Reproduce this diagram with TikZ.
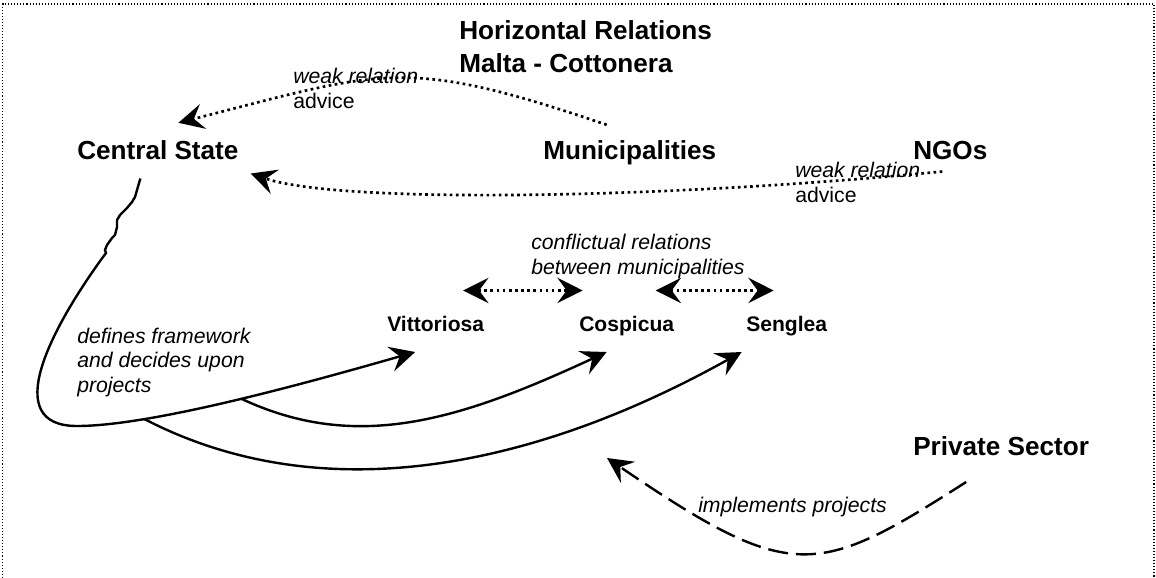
\documentclass[tikz,border=0pt]{standalone}
\usepackage{fontspec}
\setmainfont{Liberation Sans}
\usetikzlibrary{arrows.meta}

\begin{document}
\begin{tikzpicture}[x=0.75pt, y=-0.75pt,
    >={Stealth[length=19pt, width=19pt, inset=7pt]},
    actor/.style={inner sep=0pt, anchor=base west, font=\bfseries\fontsize{19.6}{24.75}\selectfont},
    town/.style={inner sep=0pt, anchor=base west, font=\bfseries\fontsize{15.8}{19}\selectfont},
    remark/.style={inner sep=0pt, anchor=base west, align=left, font=\itshape\fontsize{15.9}{18.3}\selectfont},
    link/.style={->, line width=1.8pt},
    weak/.style={->, line width=2pt, dash pattern=on 2pt off 2.6pt},
    clash/.style={<->, line width=2pt, dash pattern=on 2pt off 2.6pt},
    impl/.style={->, line width=1.8pt, dash pattern=on 15pt off 6pt},
    border/.style={line width=0.8pt, dash pattern=on 0.8pt off 1.5pt}]

     \useasboundingbox (0,0) rectangle (1156,578);
     \draw[border] (2.5,578) |- (1154,4) -- (1154,578);

     % Titel und Akteure
     \node[actor, align=left] (title) at (459,72) {Horizontal Relations\\Malta - Cottonera};
     \node[actor] (cs) at (77,159) {Central State};
     \node[actor] (muni) at (543,159) {Municipalities};
     \node[actor] (ngo) at (913,159) {NGOs};
     \node[actor] (priv) at (913,455) {Private Sector};

     % Gemeinden
     \node[town] (vit) at (387,331) {Vittoriosa};
     \node[town] (cos) at (579,331) {Cospicua};
     \node[town] (sen) at (746,331) {Senglea};

     % Beschriftungen
     \node[remark] (advA) at (293,108) {weak relation\\\upshape advice};
     \node[remark] (advB) at (795,202) {weak relation\\\upshape advice};
     \node[remark] (conf) at (531,274) {conflictual relations\\between municipalities};
     \node[remark] (defs) at (77,392) {defines framework\\and decides upon\\projects};
     \node[remark] (impltxt) at (698,512) {implements projects};

     % schwache Beziehungen
     \draw[weak] ([shift={(-23,-15)}]muni.north) .. controls (404,56) and (385,70) .. ([shift={(20.5,-17)}]cs.north);
     \draw[weak] ([shift={(-8,12)}]ngo.south) .. controls (662,199) and (340,204) .. ([shift={(12,14)}]cs.south east);

     % Konflikte zwischen Gemeinden
     \draw[clash] ([shift={(27.5,-25)}]vit.north) -- ([shift={(-44,-25)}]cos.north);
     \draw[clash] ([shift={(29,-25)}]cos.north) -- ([shift={(-13,-25)}]sen.north);

     % Zentralstaat legt Rahmen fest
     \draw[link] ([shift={(-17.5,19)}]cs.south) -- (137,190) -- (135,197) -- (132,202) -- (127,208)
        -- (120,215) -- (117,220) -- (117,227) -- (115,235) -- (112,238) -- (107,245) -- (105,250)
        -- (106,253) -- (103,257) .. controls (50,330) and (0,426) .. (77,426)
        .. controls (150,426) and (300,385) .. coordinate[pos=0.25] (forkS) coordinate[pos=0.53] (forkC)
        ([shift={(-20.5,21)}]vit.base);
     \draw[link] (forkC) .. controls (357,453) and (460,420) .. ([shift={(-20,21)}]cos.base);
     \draw[link] (forkS) .. controls (320,510) and (530,470) .. ([shift={(-45,21)}]sen.base);

     % Privatsektor
     \coordinate (target) at (607,458);
     \draw[impl] ([shift={(-35,27)}]priv.base) .. controls (816,578) and (792,584) .. (target);

   \end{tikzpicture}
\end{document}
